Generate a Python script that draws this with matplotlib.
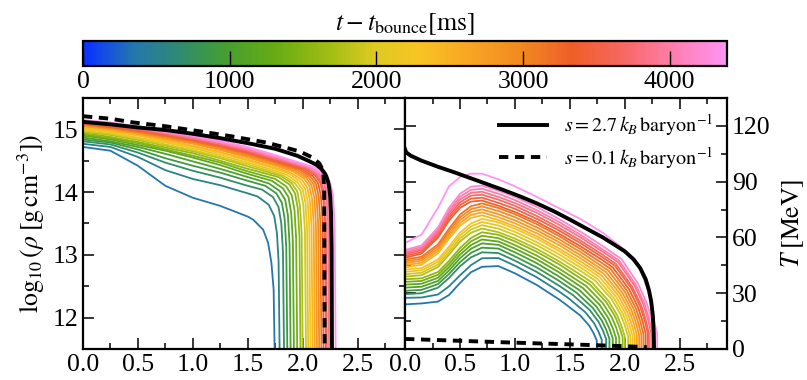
import matplotlib
matplotlib.use("Agg")
import matplotlib.pyplot as plt
import numpy as np
from matplotlib.colors import LinearSegmentedColormap, Normalize
from matplotlib.cm import ScalarMappable
from matplotlib.lines import Line2D
from matplotlib.ticker import MultipleLocator

plt.rcParams['font.family'] = 'serif'
plt.rcParams['font.serif'] = ['Liberation Serif', 'DejaVu Serif']
plt.rcParams['mathtext.fontset'] = 'stix'

# post-bounce times of the profiles (ms)
times = [350, 525, 700, 875, 1050, 1225, 1400, 1575, 1750, 1925, 2100, 2275,
         2450, 2625, 2800, 2975, 3150, 3325, 3500, 3675, 3850, 4025, 4200, 4375]
t_max = 4390

# ---- density profiles ----
rho_body_x = [0.0, 0.25, 0.5, 0.75, 1.0, 1.25, 1.5]
rho_body = [
    [14.72, 14.66, 14.42, 14.10, 13.91, 13.78, 13.61],
    [14.77, 14.72, 14.56, 14.35, 14.21, 14.11, 13.98],
    [14.81, 14.76, 14.63, 14.47, 14.34, 14.23, 14.10],
    [14.84, 14.79, 14.68, 14.54, 14.42, 14.31, 14.18],
    [14.87, 14.81, 14.72, 14.61, 14.49, 14.37, 14.24],
    [14.90, 14.84, 14.75, 14.66, 14.55, 14.43, 14.29],
    [14.92, 14.86, 14.78, 14.68, 14.58, 14.47, 14.33],
    [14.94, 14.88, 14.80, 14.71, 14.62, 14.50, 14.37],
    [14.96, 14.91, 14.83, 14.74, 14.65, 14.54, 14.41],
    [14.98, 14.93, 14.85, 14.76, 14.67, 14.56, 14.44],
    [15.00, 14.95, 14.87, 14.79, 14.70, 14.59, 14.47],
    [15.02, 14.97, 14.90, 14.81, 14.72, 14.62, 14.50],
    [15.03, 14.98, 14.91, 14.83, 14.74, 14.64, 14.52],
    [15.05, 15.00, 14.93, 14.85, 14.77, 14.67, 14.55],
    [15.06, 15.01, 14.94, 14.86, 14.78, 14.68, 14.57],
    [15.07, 15.02, 14.95, 14.88, 14.80, 14.70, 14.59],
    [15.08, 15.03, 14.97, 14.89, 14.81, 14.72, 14.61],
    [15.09, 15.04, 14.98, 14.91, 14.83, 14.74, 14.63],
    [15.10, 15.05, 14.99, 14.92, 14.84, 14.75, 14.64],
    [15.11, 15.07, 15.00, 14.93, 14.85, 14.76, 14.66],
    [15.12, 15.08, 15.01, 14.94, 14.86, 14.77, 14.67],
    [15.13, 15.09, 15.02, 14.95, 14.88, 14.79, 14.69],
    [15.14, 15.10, 15.03, 14.96, 14.89, 14.80, 14.70],
    [15.15, 15.11, 15.05, 14.98, 14.90, 14.82, 14.72],
]
rho_knee_x = [
    [1.55, 1.64, 1.685, 1.715, 1.735, 1.745],
    [1.59, 1.69, 1.74, 1.765, 1.78, 1.79],
    [1.63, 1.73, 1.78, 1.805, 1.82, 1.83],
    [1.66, 1.76, 1.81, 1.835, 1.85, 1.86],
    [1.69, 1.79, 1.84, 1.865, 1.88, 1.89],
    [1.72, 1.82, 1.87, 1.895, 1.91, 1.92],
    [1.75, 1.85, 1.90, 1.925, 1.94, 1.95],
    [1.78, 1.88, 1.93, 1.955, 1.97, 1.98],
    [1.80, 1.90, 1.95, 1.975, 1.99, 2.00],
    [1.75, 1.83, 1.93, 1.98, 2.005, 2.02, 2.03],
    [1.75, 1.85, 1.95, 2.00, 2.025, 2.04, 2.05],
    [1.75, 1.87, 1.97, 2.02, 2.045, 2.06, 2.07],
    [1.75, 1.89, 1.99, 2.04, 2.065, 2.08, 2.09],
    [1.75, 1.91, 2.01, 2.06, 2.085, 2.10, 2.11],
    [1.75, 1.93, 2.03, 2.08, 2.105, 2.12, 2.13],
    [1.75, 1.95, 2.05, 2.10, 2.125, 2.14, 2.15],
    [1.75, 1.97, 2.07, 2.12, 2.145, 2.16, 2.17],
    [1.75, 1.99, 2.09, 2.14, 2.165, 2.18, 2.19],
    [1.75, 2.01, 2.11, 2.16, 2.185, 2.20, 2.21],
    [1.75, 2.02, 2.12, 2.17, 2.195, 2.21, 2.22],
    [1.75, 2.04, 2.14, 2.19, 2.215, 2.23, 2.24],
    [1.75, 2.05, 2.15, 2.20, 2.225, 2.24, 2.25],
    [1.75, 2.07, 2.17, 2.22, 2.245, 2.26, 2.27],
    [1.75, 2.10, 2.20, 2.25, 2.275, 2.29, 2.30],
]
rho_knee = [
    [13.56, 13.40, 13.19, 12.87, 12.45, 11.4],
    [13.93, 13.80, 13.62, 13.35, 12.90, 11.4],
    [14.04, 13.92, 13.76, 13.50, 13.05, 11.4],
    [14.10, 13.98, 13.83, 13.58, 13.12, 11.4],
    [14.14, 14.02, 13.88, 13.63, 13.17, 11.4],
    [14.18, 14.06, 13.92, 13.67, 13.22, 11.4],
    [14.21, 14.09, 13.95, 13.71, 13.26, 11.4],
    [14.24, 14.12, 13.98, 13.74, 13.30, 11.4],
    [14.26, 14.14, 14.01, 13.78, 13.34, 11.4],
    [14.31, 14.26, 14.14, 14.02, 13.80, 13.37, 11.4],
    [14.34, 14.28, 14.16, 14.04, 13.83, 13.40, 11.4],
    [14.37, 14.30, 14.18, 14.06, 13.85, 13.42, 11.4],
    [14.39, 14.31, 14.20, 14.08, 13.87, 13.44, 11.4],
    [14.42, 14.33, 14.22, 14.10, 13.89, 13.46, 11.4],
    [14.44, 14.34, 14.23, 14.11, 13.91, 13.48, 11.4],
    [14.46, 14.35, 14.24, 14.12, 13.92, 13.50, 11.4],
    [14.48, 14.36, 14.25, 14.13, 13.93, 13.52, 11.4],
    [14.50, 14.37, 14.26, 14.14, 13.94, 13.53, 11.4],
    [14.51, 14.38, 14.27, 14.15, 13.95, 13.54, 11.4],
    [14.53, 14.39, 14.28, 14.16, 13.96, 13.55, 11.4],
    [14.54, 14.39, 14.28, 14.16, 13.96, 13.55, 11.4],
    [14.56, 14.40, 14.29, 14.17, 13.97, 13.56, 11.4],
    [14.57, 14.40, 14.29, 14.17, 13.97, 13.56, 11.4],
    [14.59, 14.40, 14.28, 14.15, 13.95, 13.50, 11.4],
]

# cold neutron star references
cold_rho_x = [0.0, 0.25, 0.5, 0.75, 1.0, 1.25, 1.5, 1.75, 1.95, 2.05, 2.12,
              2.17, 2.2, 2.215, 2.23, 2.24, 2.25, 2.258, 2.263, 2.266]
cold_rho = [15.12, 15.08, 15.03, 14.99, 14.93, 14.86, 14.78, 14.69, 14.58,
            14.50, 14.44, 14.37, 14.30, 14.25, 14.17, 14.08, 13.93, 13.65,
            13.10, 11.4]
colder_rho_x = [0.0, 0.25, 0.46, 0.75, 1.06, 1.35, 1.67, 1.97, 2.09, 2.15,
                2.175, 2.188, 2.195, 2.2]
colder_rho = [15.21, 15.17, 15.11, 15.05, 14.97, 14.89, 14.79, 14.65, 14.55,
              14.46, 14.38, 14.28, 14.05, 11.4]

# ---- temperature profiles ----
T_grid = [0.0, 0.15, 0.3, 0.4, 0.5, 0.6, 0.7, 0.85, 1.0, 1.2, 1.4]
T_body = [
    [24.0, 24.5, 25.5, 29.0, 35.5, 41.3, 44.2, 44.6, 40.7, 34.4, 26.7],
    [27.5, 27.7, 29.3, 33.7, 39.6, 45.1, 48.8, 48.9, 44.8, 38.5, 31.0],
    [29.5, 30.0, 33.0, 38.2, 44.5, 49.3, 52.0, 51.6, 47.5, 41.4, 34.1],
    [31.3, 31.8, 34.9, 40.3, 46.7, 51.7, 54.5, 54.0, 49.8, 43.8, 36.7],
    [33.0, 33.5, 36.6, 42.2, 48.8, 53.9, 56.8, 56.0, 52.0, 46.1, 39.0],
    [34.6, 35.1, 38.3, 44.0, 50.7, 55.9, 58.9, 57.8, 54.0, 48.2, 41.3],
    [36.1, 36.6, 39.9, 45.7, 52.5, 57.9, 60.9, 59.6, 55.9, 50.2, 43.3],
    [37.5, 38.0, 41.4, 47.3, 54.3, 59.7, 62.8, 61.4, 57.9, 52.2, 45.6],
    [38.9, 39.7, 44.1, 50.7, 57.8, 62.5, 64.8, 62.8, 59.4, 53.8, 47.2],
    [40.2, 41.0, 45.5, 52.2, 59.4, 64.2, 66.6, 64.7, 61.3, 55.8, 49.2],
    [41.5, 42.3, 46.9, 53.7, 61.0, 65.9, 68.3, 66.4, 63.0, 57.4, 51.0],
    [42.7, 43.5, 48.2, 55.1, 62.6, 67.5, 70.0, 68.1, 64.7, 59.3, 52.7],
    [43.9, 45.3, 51.5, 59.3, 66.3, 70.5, 71.9, 69.3, 66.0, 60.6, 54.1],
    [45.0, 46.4, 52.7, 60.7, 67.8, 72.1, 73.5, 70.9, 67.6, 62.2, 55.9],
    [46.1, 47.6, 53.9, 62.0, 69.3, 73.7, 75.1, 72.5, 69.2, 63.8, 57.5],
    [47.1, 48.6, 55.1, 63.4, 70.8, 75.2, 76.7, 74.2, 70.9, 65.4, 59.1],
    [48.1, 49.6, 56.3, 64.7, 72.3, 76.8, 78.3, 75.8, 72.5, 67.1, 60.8],
    [49.1, 51.3, 59.9, 69.1, 75.9, 79.3, 79.8, 77.0, 73.7, 68.4, 62.1],
    [50.0, 52.2, 61.0, 70.5, 77.4, 80.9, 81.4, 78.6, 75.4, 70.0, 63.8],
    [50.9, 53.2, 62.2, 71.8, 78.9, 82.5, 83.0, 80.3, 77.0, 71.5, 65.2],
    [51.7, 54.0, 63.3, 73.2, 80.4, 84.0, 84.6, 81.8, 78.5, 73.2, 66.9],
    [52.5, 54.9, 64.3, 74.5, 81.9, 85.6, 86.2, 83.5, 80.1, 74.6, 68.4],
    [53.3, 55.7, 65.4, 75.9, 83.5, 87.3, 87.9, 85.1, 81.8, 76.4, 70.0],
    [57.0, 61.5, 76.0, 87.5, 92.5, 94.3, 94.3, 91.3, 87.5, 81.8, 75.8],
]
T_tail_x = [
    [1.445, 1.595, 1.675, 1.715, 1.745, 1.745],
    [1.49, 1.64, 1.72, 1.76, 1.79, 1.79],
    [1.53, 1.68, 1.76, 1.80, 1.83, 1.83],
    [1.56, 1.71, 1.79, 1.83, 1.86, 1.86],
    [1.59, 1.74, 1.82, 1.86, 1.89, 1.89],
    [1.62, 1.77, 1.85, 1.89, 1.92, 1.92],
    [1.65, 1.80, 1.88, 1.92, 1.95, 1.95],
    [1.68, 1.83, 1.91, 1.95, 1.98, 1.98],
    [1.6, 1.70, 1.85, 1.93, 1.97, 2.00, 2.00],
    [1.6, 1.73, 1.88, 1.96, 2.00, 2.03, 2.03],
    [1.6, 1.75, 1.90, 1.98, 2.02, 2.05, 2.05],
    [1.6, 1.77, 1.92, 2.00, 2.04, 2.07, 2.07],
    [1.6, 1.79, 1.94, 2.02, 2.06, 2.09, 2.09],
    [1.6, 1.81, 1.96, 2.04, 2.08, 2.11, 2.11],
    [1.6, 1.83, 1.98, 2.06, 2.10, 2.13, 2.13],
    [1.6, 1.85, 2.00, 2.08, 2.12, 2.15, 2.15],
    [1.6, 1.8, 1.87, 2.02, 2.10, 2.14, 2.17, 2.17],
    [1.6, 1.8, 1.89, 2.04, 2.12, 2.16, 2.19, 2.19],
    [1.6, 1.8, 1.91, 2.06, 2.14, 2.18, 2.21, 2.21],
    [1.6, 1.8, 1.92, 2.07, 2.15, 2.19, 2.22, 2.22],
    [1.6, 1.8, 1.94, 2.09, 2.17, 2.21, 2.24, 2.24],
    [1.6, 1.8, 1.95, 2.10, 2.18, 2.22, 2.25, 2.25],
    [1.6, 1.8, 1.97, 2.12, 2.20, 2.24, 2.27, 2.27],
    [1.6, 1.8, 2.0, 2.136, 2.227, 2.27, 2.294, 2.294],
]
T_tail = [
    [24.8, 18.0, 12.6, 8.6, 4.5, 0.0],
    [27.2, 19.8, 13.9, 9.4, 5.0, 0.0],
    [28.9, 21.0, 14.7, 10.0, 5.3, 0.0],
    [30.3, 22.0, 15.4, 10.5, 5.5, 0.0],
    [31.5, 22.9, 16.0, 10.9, 5.7, 0.0],
    [32.7, 23.8, 16.6, 11.3, 5.9, 0.0],
    [33.8, 24.6, 17.2, 11.7, 6.1, 0.0],
    [34.8, 25.3, 17.7, 12.0, 6.3, 0.0],
    [39.8, 35.8, 26.0, 18.2, 12.4, 6.5, 0.0],
    [41.9, 36.8, 26.8, 18.7, 12.7, 6.7, 0.0],
    [43.7, 37.7, 27.4, 19.2, 13.0, 6.9, 0.0],
    [45.4, 38.7, 28.1, 19.7, 13.4, 7.0, 0.0],
    [47.0, 39.5, 28.8, 20.1, 13.7, 7.2, 0.0],
    [48.7, 40.4, 29.4, 20.6, 14.0, 7.4, 0.0],
    [50.3, 41.3, 30.0, 21.0, 14.3, 7.5, 0.0],
    [52.0, 42.2, 30.7, 21.5, 14.6, 7.7, 0.0],
    [53.6, 45.9, 43.1, 31.3, 21.9, 14.9, 7.8, 0.0],
    [55.1, 47.7, 43.9, 32.0, 22.4, 15.2, 8.0, 0.0],
    [56.8, 49.2, 44.8, 32.6, 22.8, 15.5, 8.2, 0.0],
    [58.2, 50.6, 45.7, 33.2, 23.3, 15.8, 8.3, 0.0],
    [59.9, 52.3, 46.6, 33.9, 23.7, 16.1, 8.5, 0.0],
    [61.3, 53.5, 47.5, 34.5, 24.2, 16.4, 8.6, 0.0],
    [63.0, 55.3, 48.4, 35.2, 24.6, 16.7, 8.8, 0.0],
    [69.8, 62.5, 53.2, 43.5, 28.5, 14.0, 8.5, 0.0],
]

cold_T_x = [0.0, 0.01, 0.05, 0.15, 0.3, 0.45, 0.6, 0.75, 0.9, 1.05, 1.2,
            1.35, 1.5, 1.65, 1.8, 1.9, 2.0, 2.08, 2.14, 2.19, 2.22, 2.24,
            2.255, 2.263, 2.266]
cold_T = [107.5, 105.8, 104.0, 101.3, 98.0, 95.0, 91.8, 88.6, 85.4, 82.0,
          78.3, 74.2, 69.6, 64.8, 60.0, 56.3, 52.5, 48.2, 43.5, 37.5, 31.5,
          25.5, 18.0, 9.0, 0.0]
colder_T_x = [0.0, 0.5, 1.0, 1.5, 2.0, 2.2]
colder_T = [5.4, 4.4, 3.4, 2.5, 1.5, 1.0]

# colour map
cmap_colors = ['#0a30ff', '#1650e0', '#2578a8', '#2d8878', '#3e9a40', '#4aa02c',
               '#68ac14', '#a0bc14', '#dcca20', '#f8c424', '#f8a624', '#f28a20',
               '#ee5e28', '#f76860', '#ff7eb0', '#ff94f2']
cmap_pos = [0.0, 0.035, 0.08, 0.14, 0.2, 0.23, 0.3, 0.38, 0.45, 0.52, 0.6,
            0.68, 0.76, 0.84, 0.92, 1.0]
cmap = LinearSegmentedColormap.from_list('tb', list(zip(cmap_pos, cmap_colors)))
norm = Normalize(0, t_max)

fig = plt.figure(figsize=(8.07, 3.80), dpi=100)
ax1 = fig.add_axes([0.1028, 0.0816, 0.3990, 0.6605])
ax2 = fig.add_axes([0.5019, 0.0816, 0.3990, 0.6605])
cax = fig.add_axes([0.1028, 0.8263, 0.7980, 0.0658])

fs = 18.5
dash = (0, (2.4, 1.7))
for k, t in enumerate(times):
    c = cmap(norm(t))
    ax1.plot(rho_body_x + rho_knee_x[k], rho_body[k] + rho_knee[k], color=c, lw=1.3, zorder=2)
    ax2.plot(T_grid + T_tail_x[k], T_body[k] + T_tail[k], color=c, lw=1.3, zorder=2)

ax1.plot(cold_rho_x, cold_rho, color='k', lw=2.8, zorder=4)
ax1.plot(colder_rho_x, colder_rho, color='k', lw=2.8, ls=dash, zorder=4)
ax2.plot(cold_T_x, cold_T, color='k', lw=2.8, zorder=4)
ax2.plot(colder_T_x, colder_T, color='k', lw=2.8, ls=dash, zorder=4)

for ax in (ax1, ax2):
    ax.set_xlim(0, 2.93)
    ax.xaxis.set_major_locator(MultipleLocator(0.5))
    ax.xaxis.set_minor_locator(MultipleLocator(0.25))
    ax.tick_params(which='both', direction='in', top=True, bottom=True,
                   left=True, right=True, labelsize=fs, width=1.1)
    ax.tick_params(which='major', length=8)
    ax.tick_params(which='minor', length=4.5)
    for s in ax.spines.values():
        s.set_linewidth(1.6)

ax1.set_ylim(11.5, 15.5)
ax1.yaxis.set_major_locator(MultipleLocator(1))
ax1.yaxis.set_minor_locator(MultipleLocator(0.5))
ax1.set_ylabel(r'$\log_{10}(\rho\;[\mathrm{g\,cm^{-3}}])$', fontsize=fs)

ax2.set_ylim(0, 135)
ax2.yaxis.set_major_locator(MultipleLocator(30))
ax2.yaxis.set_minor_locator(MultipleLocator(15))
ax2.tick_params(labelleft=False, labelright=True)
ax2.yaxis.set_label_position('right')
ax2.set_ylabel(r'$T\;[\mathrm{MeV}]$', fontsize=fs, labelpad=6)

handles = [Line2D([], [], color='k', lw=2.8),
           Line2D([], [], color='k', lw=2.8, ls=dash)]
labels = [r'$s = 2.7\,k_B\,\mathrm{baryon}^{-1}$', r'$s = 0.1\,k_B\,\mathrm{baryon}^{-1}$']
ax2.legend(handles, labels, loc='upper right', frameon=False, fontsize=14.5,
           handlelength=2.4, borderaxespad=0.3, labelspacing=0.35)

cb = fig.colorbar(ScalarMappable(norm=norm, cmap=cmap), cax=cax, orientation='horizontal')
cb.set_ticks([0, 1000, 2000, 3000, 4000])
cb.ax.tick_params(direction='in', length=11, width=1.0, labelsize=fs, bottom=True, top=False)
cb.outline.set_linewidth(1.6)
cax.xaxis.set_label_position('top')
cb.set_label(r'$t - t_{\mathrm{bounce}}[\mathrm{ms}]$', fontsize=fs, labelpad=8)

fig.savefig('out.png', dpi=100)
